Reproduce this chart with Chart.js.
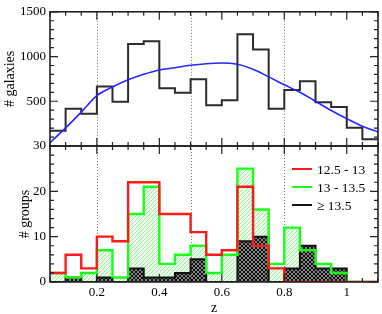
<!DOCTYPE html>
<html>
<head>
<meta charset="utf-8">
<script src="https://cdn.jsdelivr.net/npm/chart.js@4"></script>
<style>
    html, body { margin: 0; padding: 0; background: #fff; }
    #wrap { position: relative; width: 382px; height: 314px; background: #fff; }
    #wrap canvas { position: absolute; left: 0; top: 0; }
</style>
</head>
<body>
<div id="wrap">
    <canvas id="galaxies" width="382" height="314"></canvas>
    <canvas id="groups" width="382" height="314"></canvas>
</div>
<script>
// left edges of the z bins (width 0.05), last bin closes at zEnd
const binEdges = [0.05, 0.10, 0.15, 0.20, 0.25, 0.30, 0.35, 0.40, 0.45, 0.50, 0.55,
                  0.60, 0.65, 0.70, 0.75, 0.80, 0.85, 0.90, 0.95, 1.00, 1.05];
const zEnd = 1.10;

const galaxyCounts = [170, 415, 360, 665, 495, 1140, 1170, 645, 595, 745, 455,
                      510, 1250, 1080, 415, 625, 725, 490, 435, 205, 75];

// smooth fit (blue curve)
const fitZ = [0.05, 0.10, 0.15, 0.20, 0.25, 0.30, 0.35, 0.40, 0.45, 0.50, 0.55,
              0.60, 0.65, 0.70, 0.75, 0.80, 0.85, 0.90, 0.95, 1.00, 1.05, 1.10];
const fitCounts = [36, 202, 379, 563, 659, 740, 802, 850, 875, 902, 920,
                   927, 913, 858, 773, 684, 600, 500, 397, 306, 221, 158];

// groups per mass range
const groups125 = [2, 6, 3, 10, 9, 22, 22, 15, 15, 11, 6, 7, 21, 8, 3, 0, 0, 0, 0, 0, 0];
const groups13 = [2, 1, 2, 7, 1, 15, 21, 4, 6, 8, 2, 6, 25, 16, 4, 12, 7, 4, 2, 0, 0];
const groups135 = [0, 1, 0, 1, 0, 3, 1, 1, 2, 5, 0, 0, 9, 10, 0, 3, 8, 3, 3, 0, 0];

const seriesNames = ['12.5 - 13', '13 - 13.5', '\u2265 13.5'];
const xLabels = ['0.2', '0.4', '0.6', '0.8', '1'];
const galaxyLabels = ['', '500', '1000', '1500'];
const groupLabels = ['0', '10', '20', '30'];
const dottedZ = [0.2, 0.5, 0.8];

const serif = 'Liberation Serif, Times New Roman, serif';
Chart.defaults.font.family = serif;
Chart.defaults.font.size = 13;
Chart.defaults.color = '#000';

function steps(values) {
    const pts = binEdges.map(function(e, i) { return { x: e, y: values[i] }; });
    pts.push({ x: zEnd, y: values[values.length - 1] });
    return pts;
}

function hatch(bg, fg, cross) {
    const c = document.createElement('canvas');
    c.width = 4; c.height = 4;
    const g = c.getContext('2d');
    g.fillStyle = bg;
    g.fillRect(0, 0, 4, 4);
    g.fillStyle = fg;
    for (let i = 0; i < 4; i++) {
        g.fillRect(i, 3 - i, 1, 1);
        if (cross) g.fillRect(i, i, 1, 1);
    }
    return g.createPattern(c, 'repeat');
}

// box, inward ticks on all sides, dotted verticals
const frame = {
    id: 'frame',
    beforeDatasetsDraw(chart, args, opts) {
        const { ctx, chartArea: a, scales: { x } } = chart;
        ctx.save();
        ctx.strokeStyle = '#777';
        ctx.lineWidth = 1;
        ctx.setLineDash([1, 2]);
        dottedZ.forEach(function(v) {
            const px = Math.round(x.getPixelForValue(v)) + 0.5;
            ctx.beginPath();
            ctx.moveTo(px, a.top);
            ctx.lineTo(px, a.bottom);
            ctx.stroke();
        });
        ctx.restore();
    },
    afterDatasetsDraw(chart, args, opts) {
        const { ctx, chartArea: a, scales: { x, y } } = chart;
        ctx.save();
        ctx.strokeStyle = '#222';
        ctx.lineWidth = 1.2;
        function isMajor(v, step) { return Math.abs(v / step - Math.round(v / step)) < 1e-6; }
        const nx = Math.round((x.max - x.min) / opts.xMinor);
        for (let i = 0; i <= nx; i++) {
            const v = x.min + i * opts.xMinor;
            const px = x.getPixelForValue(v);
            const len = isMajor(v, opts.xMajor) ? 8 : 4;
            ctx.beginPath();
            ctx.moveTo(px, a.top); ctx.lineTo(px, a.top + len);
            ctx.moveTo(px, a.bottom); ctx.lineTo(px, a.bottom - len);
            ctx.stroke();
        }
        const ny = Math.round((y.max - y.min) / opts.yMinor);
        for (let i = 0; i <= ny; i++) {
            const v = y.min + i * opts.yMinor;
            const py = y.getPixelForValue(v);
            const len = isMajor(v, opts.yMajor) ? 8 : 4;
            ctx.beginPath();
            ctx.moveTo(a.left, py); ctx.lineTo(a.left + len, py);
            ctx.moveTo(a.right, py); ctx.lineTo(a.right - len, py);
            ctx.stroke();
        }
        ctx.lineWidth = 1.6;
        ctx.strokeRect(a.left, a.top, a.right - a.left, a.bottom - a.top);
        ctx.restore();
    }
};

// legend inside the lower panel
const innerLegend = {
    id: 'innerLegend',
    afterDraw(chart, args, opts) {
        if (!opts.items) return;
        const { ctx, chartArea: a } = chart;
        ctx.save();
        ctx.font = '13.5px ' + serif;
        ctx.textBaseline = 'middle';
        ctx.fillStyle = '#000';
        opts.items.forEach(function(it, i) {
            const yy = a.top + 23 + i * 18;
            const x0 = a.left + 242;
            ctx.strokeStyle = it.color;
            ctx.lineWidth = 2;
            ctx.beginPath();
            ctx.moveTo(x0, yy); ctx.lineTo(x0 + 20, yy);
            ctx.stroke();
            ctx.fillText(it.text, x0 + 25, yy + 1);
        });
        ctx.restore();
    }
};

const xScale = {
    type: 'linear',
    min: 0.05,
    max: zEnd,
    grid: { display: false, drawTicks: false },
    border: { display: false }
};

new Chart(document.getElementById('galaxies'), {
    type: 'line',
    data: {
        datasets: [{
            data: fitZ.map(function(z, i) { return { x: z, y: fitCounts[i] }; }),
            borderColor: '#2626ff',
            borderWidth: 1.6,
            cubicInterpolationMode: 'monotone',
            pointRadius: 0,
            fill: false
        }, {
            data: steps(galaxyCounts),
            stepped: 'before',
            borderColor: '#2b2b2b',
            borderWidth: 2,
            pointRadius: 0,
            fill: false
        }]
    },
    options: {
        responsive: false,
        animation: false,
        layout: { padding: { top: 10, right: 4, bottom: 168, left: 0 } },
        plugins: {
            legend: { display: false },
            tooltip: { enabled: false },
            frame: { xMinor: 0.05, xMajor: 0.2, yMinor: 100, yMajor: 500 }
        },
        scales: {
            x: Object.assign({}, xScale, { display: false }),
            y: {
                min: 0,
                max: 1500,
                grid: { display: false, drawTicks: false },
                border: { display: false },
                ticks: {
                    stepSize: 500,
                    padding: 4,
                    callback: function(v, i) { return galaxyLabels[i]; }
                },
                title: { display: true, text: '# galaxies', font: { size: 14 }, padding: { top: 2, bottom: 0 } },
                afterFit: function(s) { s.width = 50; }
            }
        }
    },
    plugins: [frame]
});

const greenHatch = hatch('#ecfcec', '#9cee9c', false);
const blackHatch = hatch('#808080', '#111111', true);

new Chart(document.getElementById('groups'), {
    type: 'line',
    data: {
        datasets: [{
            data: steps(groups125),
            stepped: 'before',
            borderColor: '#ff1a1a',
            borderWidth: 2.4,
            pointRadius: 0,
            fill: false
        }, {
            data: steps(groups13),
            stepped: 'before',
            borderColor: '#1aff1a',
            borderWidth: 2.4,
            pointRadius: 0,
            fill: false
        }, {
            data: steps(groups135),
            stepped: 'before',
            borderColor: '#111',
            borderWidth: 2,
            pointRadius: 0,
            backgroundColor: blackHatch,
            fill: 'origin'
        }, {
            data: steps(groups13),
            stepped: 'before',
            borderWidth: 0,
            borderColor: 'rgba(0,0,0,0)',
            pointRadius: 0,
            backgroundColor: greenHatch,
            fill: 'origin'
        }]
    },
    options: {
        responsive: false,
        animation: false,
        layout: { padding: { top: 146, right: 4, bottom: 0, left: 15 } },
        plugins: {
            legend: { display: false },
            tooltip: { enabled: false },
            filler: { drawTime: 'beforeDatasetsDraw' },
            frame: { xMinor: 0.05, xMajor: 0.2, yMinor: 2, yMajor: 10 },
            innerLegend: {
                items: [
                    { text: seriesNames[0], color: '#ff1a1a' },
                    { text: seriesNames[1], color: '#1aff1a' },
                    { text: seriesNames[2], color: '#111' }
                ]
            }
        },
        scales: {
            x: Object.assign({}, xScale, {
                ticks: {
                    stepSize: 0.2,
                    includeBounds: false,
                    maxRotation: 0,
                    autoSkip: false,
                    padding: 3,
                    callback: function(v, i) { return xLabels[i]; }
                },
                title: { display: true, text: 'z', font: { size: 14 }, padding: { top: 0, bottom: -3 } },
                afterFit: function(s) { s.height = 32; }
            }),
            y: {
                min: 0,
                max: 30,
                grid: { display: false, drawTicks: false },
                border: { display: false },
                ticks: {
                    stepSize: 10,
                    padding: 4,
                    callback: function(v, i) { return groupLabels[i]; }
                },
                title: { display: true, text: '# groups', font: { size: 14 }, padding: { top: 2, bottom: 0 } },
                afterFit: function(s) { s.width = 35; }
            }
        }
    },
    plugins: [frame, innerLegend]
});
</script>
</body>
</html>
